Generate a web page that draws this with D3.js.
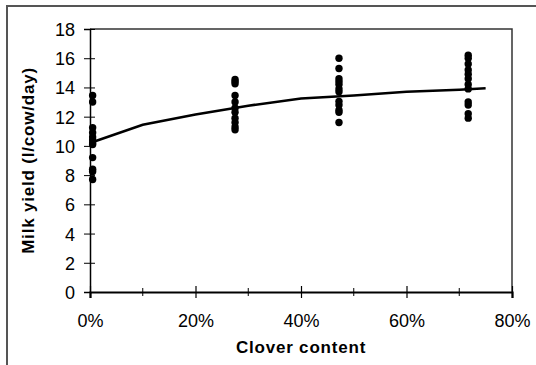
<!DOCTYPE html>
<html>
<head>
<meta charset="utf-8">
<script src="https://cdn.jsdelivr.net/npm/d3@7"></script>
<style>
  body { margin: 0; background: #fff; }
  text { font-family: "Liberation Sans", Arial, sans-serif; fill: #000; }
</style>
</head>
<body>
<script>
// Observed milk yield at each clover level
var clover_levels = [0.005, 0.275, 0.472, 0.717];
var yield_0 = [13.45, 13.0, 11.25, 10.9, 10.6, 10.4, 10.2, 10.1, 9.2, 8.4, 8.25, 7.7];
var yield_27 = [14.55, 14.4, 14.25, 13.45, 13.0, 12.6, 12.3, 11.9, 11.6, 11.3, 11.1];
var yield_47 = [16.0, 15.3, 14.6, 14.4, 14.2, 13.9, 13.7, 13.05, 12.8, 12.45, 12.3, 11.6];
var yield_72 = [16.2, 16.0, 15.6, 15.2, 14.9, 14.6, 14.2, 13.9, 13.0, 12.8, 12.2, 11.9];

// Fitted response curve
var fit_x = [0, 0.1, 0.2, 0.3, 0.4, 0.5, 0.6, 0.7, 0.75];
var fit_y = [10.2, 11.45, 12.15, 12.75, 13.25, 13.45, 13.7, 13.85, 13.95];

var y_ticks = [0, 2, 4, 6, 8, 10, 12, 14, 16, 18];
var x_ticks = [0, 0.2, 0.4, 0.6, 0.8];
var x_minor = [0.1, 0.3, 0.5, 0.7];

var width = 536, height = 365;
var margin = {top: 29, right: 24, bottom: 73, left: 90};

var svg = d3.select("body").append("svg")
    .attr("width", width)
    .attr("height", height);

// outer chart frame (top and left edges visible)
svg.append("path")
    .attr("d", "M7,365 V6 H536")
    .attr("fill", "none")
    .attr("stroke", "#555")
    .attr("stroke-width", 2);

var x = d3.scaleLinear().domain([0, 0.8]).range([margin.left, width - margin.right]);
var y = d3.scaleLinear().domain([0, 18]).range([height - margin.bottom, margin.top]);

// plot area border (top and right)
svg.append("path")
    .attr("d", "M" + x(0) + "," + y(18) + " H" + x(0.8) + " V" + y(0))
    .attr("fill", "none")
    .attr("stroke", "#333")
    .attr("stroke-width", 1.5);

// y axis
var yAxis = svg.append("g")
    .attr("transform", "translate(" + x(0) + ",0)")
    .call(d3.axisLeft(y).tickValues(y_ticks).tickSize(6));
yAxis.select(".domain").attr("stroke-width", 1.5);
yAxis.selectAll(".tick line").attr("x2", 5).attr("x1", -6).attr("stroke-width", 1);
yAxis.selectAll(".tick text")
    .attr("x", -15)
    .attr("dy", "0.36em")
    .style("font-family", "Liberation Sans, Arial, sans-serif")
    .style("font-size", "18px");

// x axis
var xAxis = svg.append("g")
    .attr("transform", "translate(0," + y(0) + ")")
    .call(d3.axisBottom(x).tickValues(x_ticks).tickFormat(d3.format(".0%")).tickSize(6));
xAxis.select(".domain").attr("stroke-width", 2.2);
xAxis.selectAll(".tick line").attr("y1", -6).attr("y2", 6).attr("stroke-width", 1.2);
xAxis.selectAll(".tick text")
    .attr("y", 35)
    .attr("dy", 0)
    .style("font-family", "Liberation Sans, Arial, sans-serif")
    .style("font-size", "18px");

svg.append("g").selectAll("line")
    .data(x_minor)
  .enter().append("line")
    .attr("x1", function(d) { return x(d); })
    .attr("x2", function(d) { return x(d); })
    .attr("y1", y(0) - 4)
    .attr("y2", y(0) + 4)
    .attr("stroke", "#000");

// fitted line
var line = d3.line()
    .x(function(d, i) { return x(fit_x[i]); })
    .y(function(d) { return y(d); });

svg.append("path")
    .datum(fit_y)
    .attr("d", line)
    .attr("fill", "none")
    .attr("stroke", "#000")
    .attr("stroke-width", 2.5);

// observations
var groups = [yield_0, yield_27, yield_47, yield_72];
var pts = [];
groups.forEach(function(g, i) {
  g.forEach(function(v) { pts.push({c: clover_levels[i], v: v}); });
});

svg.append("g").selectAll("circle")
    .data(pts)
  .enter().append("circle")
    .attr("cx", function(d) { return x(d.c); })
    .attr("cy", function(d) { return y(d.v); })
    .attr("r", 3.7)
    .attr("fill", "#000");

// axis titles
svg.append("text")
    .attr("x", (x(0) + x(0.8)) / 2)
    .attr("y", 353)
    .attr("text-anchor", "middle")
    .style("font-size", "17px")
    .style("letter-spacing", "0.8px")
    .style("font-weight", "bold")
    .text("Clover content");

svg.append("text")
    .attr("transform", "translate(34," + ((y(0) + y(18)) / 2) + ") rotate(-90)")
    .attr("text-anchor", "middle")
    .style("font-size", "17px")
    .style("letter-spacing", "0.8px")
    .style("font-weight", "bold")
    .text("Milk yield (l/cow/day)");
</script>
</body>
</html>
